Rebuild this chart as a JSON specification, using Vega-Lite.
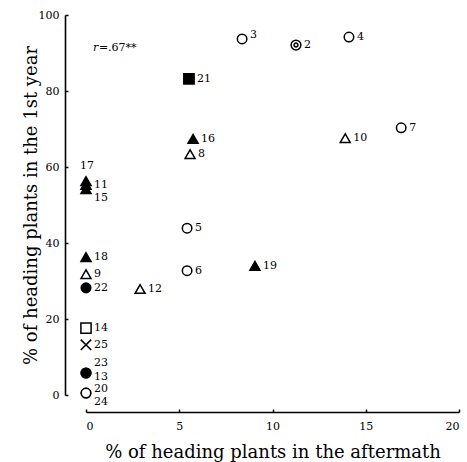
{
  "$schema": "https://vega.github.io/schema/vega-lite/v6.json",
  "width": 373,
  "height": 380,
  "autosize": {"type": "none"},
  "padding": {"left": 86, "top": 15, "right": 8, "bottom": 67},
  "background": "white",
  "config": {
    "view": {"stroke": null},
    "font": "DejaVu Serif",
    "axis": {
      "grid": false,
      "domainColor": "black",
      "domainWidth": 1.6,
      "tickColor": "black",
      "tickWidth": 1.5,
      "tickSize": -3,
      "labelFont": "DejaVu Serif",
      "labelFontSize": 11,
      "labelColor": "black",
      "titleFont": "DejaVu Serif",
      "titleFontSize": 18,
      "titleFontWeight": "normal",
      "titleColor": "black"
    }
  },
  "datasets": {
    "pts": [
      {"id": "2", "x": 11.26, "y": 92.1, "type": "double circle"},
      {"id": "3", "x": 8.37, "y": 93.7, "type": "open circle"},
      {"id": "4", "x": 14.1, "y": 94.2, "type": "open circle"},
      {"id": "5", "x": 5.42, "y": 43.9, "type": "open circle"},
      {"id": "6", "x": 5.42, "y": 32.7, "type": "open circle"},
      {"id": "7", "x": 16.9, "y": 70.3, "type": "open circle"},
      {"id": "8", "x": 5.58, "y": 63.4, "type": "open triangle"},
      {"id": "9", "x": 0, "y": 31.8, "type": "open triangle"},
      {"id": "10", "x": 13.9, "y": 67.6, "type": "open triangle"},
      {"id": "11", "x": 0, "y": 55.3, "type": "filled triangle"},
      {"id": "12", "x": 2.9, "y": 27.9, "type": "open triangle"},
      {"id": "13", "x": 0, "y": 5.8, "type": "filled circle"},
      {"id": "14", "x": 0, "y": 17.6, "type": "open square"},
      {"id": "15", "x": 0, "y": 54.2, "type": "filled triangle"},
      {"id": "16", "x": 5.74, "y": 67.4, "type": "filled triangle"},
      {"id": "17", "x": 0, "y": 56.3, "type": "filled triangle"},
      {"id": "18", "x": 0, "y": 36.3, "type": "filled triangle"},
      {"id": "19", "x": 9.06, "y": 34.0, "type": "filled triangle"},
      {"id": "20", "x": 0, "y": 0.5, "type": "open circle"},
      {"id": "21", "x": 5.52, "y": 83.2, "type": "filled square"},
      {"id": "22", "x": 0, "y": 28.2, "type": "filled circle"},
      {"id": "23", "x": 0, "y": 5.8, "type": "filled circle"},
      {"id": "24", "x": 0, "y": 0.5, "type": "open circle"},
      {"id": "25", "x": 0, "y": 13.2, "type": "cross"}
    ],
    "note": [
      {"x": 0.37, "y": 91.3, "r": "r", "rest": "=.67**"}
    ]
  },
  "encoding": {
    "x": {
      "field": "x",
      "type": "quantitative",
      "scale": {"domain": [0, 20], "nice": false, "zero": false},
      "axis": {
        "title": "% of heading plants in the aftermath",
        "values": [0, 5, 10, 15, 20],
        "offset": 17,
        "labelPadding": 11,
        "titlePadding": 12
      }
    },
    "y": {
      "field": "y",
      "type": "quantitative",
      "scale": {"domain": [0, 100], "nice": false, "zero": false},
      "axis": {
        "title": "% of heading plants in the 1st year",
        "values": [0, 20, 40, 60, 80, 100],
        "offset": 21,
        "labelPadding": 9,
        "titlePadding": -2
      }
    }
  },
  "layer": [
    {
      "data": {"name": "pts"},
      "mark": {"type": "point", "filled": false, "stroke": "black", "strokeWidth": 1.5, "opacity": 1},
      "encoding": {
        "shape": {
          "field": "type",
          "type": "nominal",
          "legend": null,
          "scale": {
            "domain": ["open circle", "filled circle", "double circle", "open triangle", "filled triangle", "open square", "filled square", "cross"],
            "range": [
              "circle",
              "circle",
              "M-1,0A1,1 0 1,1 1,0A1,1 0 1,1 -1,0ZM-0.4,0A0.4,0.4 0 1,1 0.4,0A0.4,0.4 0 1,1 -0.4,0Z",
              "triangle-up",
              "triangle-up",
              "square",
              "square",
              "M-1,-1L1,1M-1,1L1,-1"
            ]
          }
        },
        "fill": {
          "field": "type",
          "type": "nominal",
          "legend": null,
          "scale": {
            "domain": ["open circle", "filled circle", "double circle", "open triangle", "filled triangle", "open square", "filled square", "cross"],
            "range": ["white", "black", "white", "white", "black", "white", "black", "white"]
          }
        },
        "size": {
          "field": "type",
          "type": "nominal",
          "legend": null,
          "scale": {
            "domain": ["open circle", "filled circle", "double circle", "open triangle", "filled triangle", "open square", "filled square", "cross"],
            "range": [90, 110, 110, 130, 130, 110, 110, 9]
          }
        }
      }
    },
    {
      "data": {"name": "pts"},
      "transform": [{"filter": {"not": {"field": "id", "oneOf": ["3", "17", "15", "23", "13", "20", "24"]}}}],
      "mark": {"type": "text", "align": "left", "baseline": "middle", "dx": 8, "fontSize": 11, "color": "black"},
      "encoding": {"text": {"field": "id"}}
    },
    {
      "data": {"name": "pts"},
      "transform": [{"filter": {"field": "id", "oneOf": ["3", "20"]}}],
      "mark": {"type": "text", "align": "left", "baseline": "middle", "dx": 8, "dy": -4, "fontSize": 11, "color": "black"},
      "encoding": {"text": {"field": "id"}}
    },
    {
      "data": {"name": "pts"},
      "transform": [{"filter": {"field": "id", "oneOf": ["23"]}}],
      "mark": {"type": "text", "align": "left", "baseline": "middle", "dx": 8, "dy": -10, "fontSize": 11, "color": "black"},
      "encoding": {"text": {"field": "id"}}
    },
    {
      "data": {"name": "pts"},
      "transform": [{"filter": {"field": "id", "oneOf": ["13"]}}],
      "mark": {"type": "text", "align": "left", "baseline": "middle", "dx": 8, "dy": 4, "fontSize": 11, "color": "black"},
      "encoding": {"text": {"field": "id"}}
    },
    {
      "data": {"name": "pts"},
      "transform": [{"filter": {"field": "id", "oneOf": ["15", "24"]}}],
      "mark": {"type": "text", "align": "left", "baseline": "middle", "dx": 8, "dy": 9, "fontSize": 11, "color": "black"},
      "encoding": {"text": {"field": "id"}}
    },
    {
      "data": {"name": "pts"},
      "transform": [{"filter": {"field": "id", "oneOf": ["17"]}}],
      "mark": {"type": "text", "align": "center", "baseline": "middle", "dx": 1, "dy": -15, "fontSize": 11, "color": "black"},
      "encoding": {"text": {"field": "id"}}
    },
    {
      "data": {"name": "note"},
      "mark": {"type": "text", "align": "left", "baseline": "middle", "fontSize": 11, "fontStyle": "italic", "color": "black"},
      "encoding": {"text": {"field": "r"}}
    },
    {
      "data": {"name": "note"},
      "mark": {"type": "text", "align": "left", "baseline": "middle", "dx": 6, "fontSize": 11, "color": "black"},
      "encoding": {"text": {"field": "rest"}}
    }
  ]
}
